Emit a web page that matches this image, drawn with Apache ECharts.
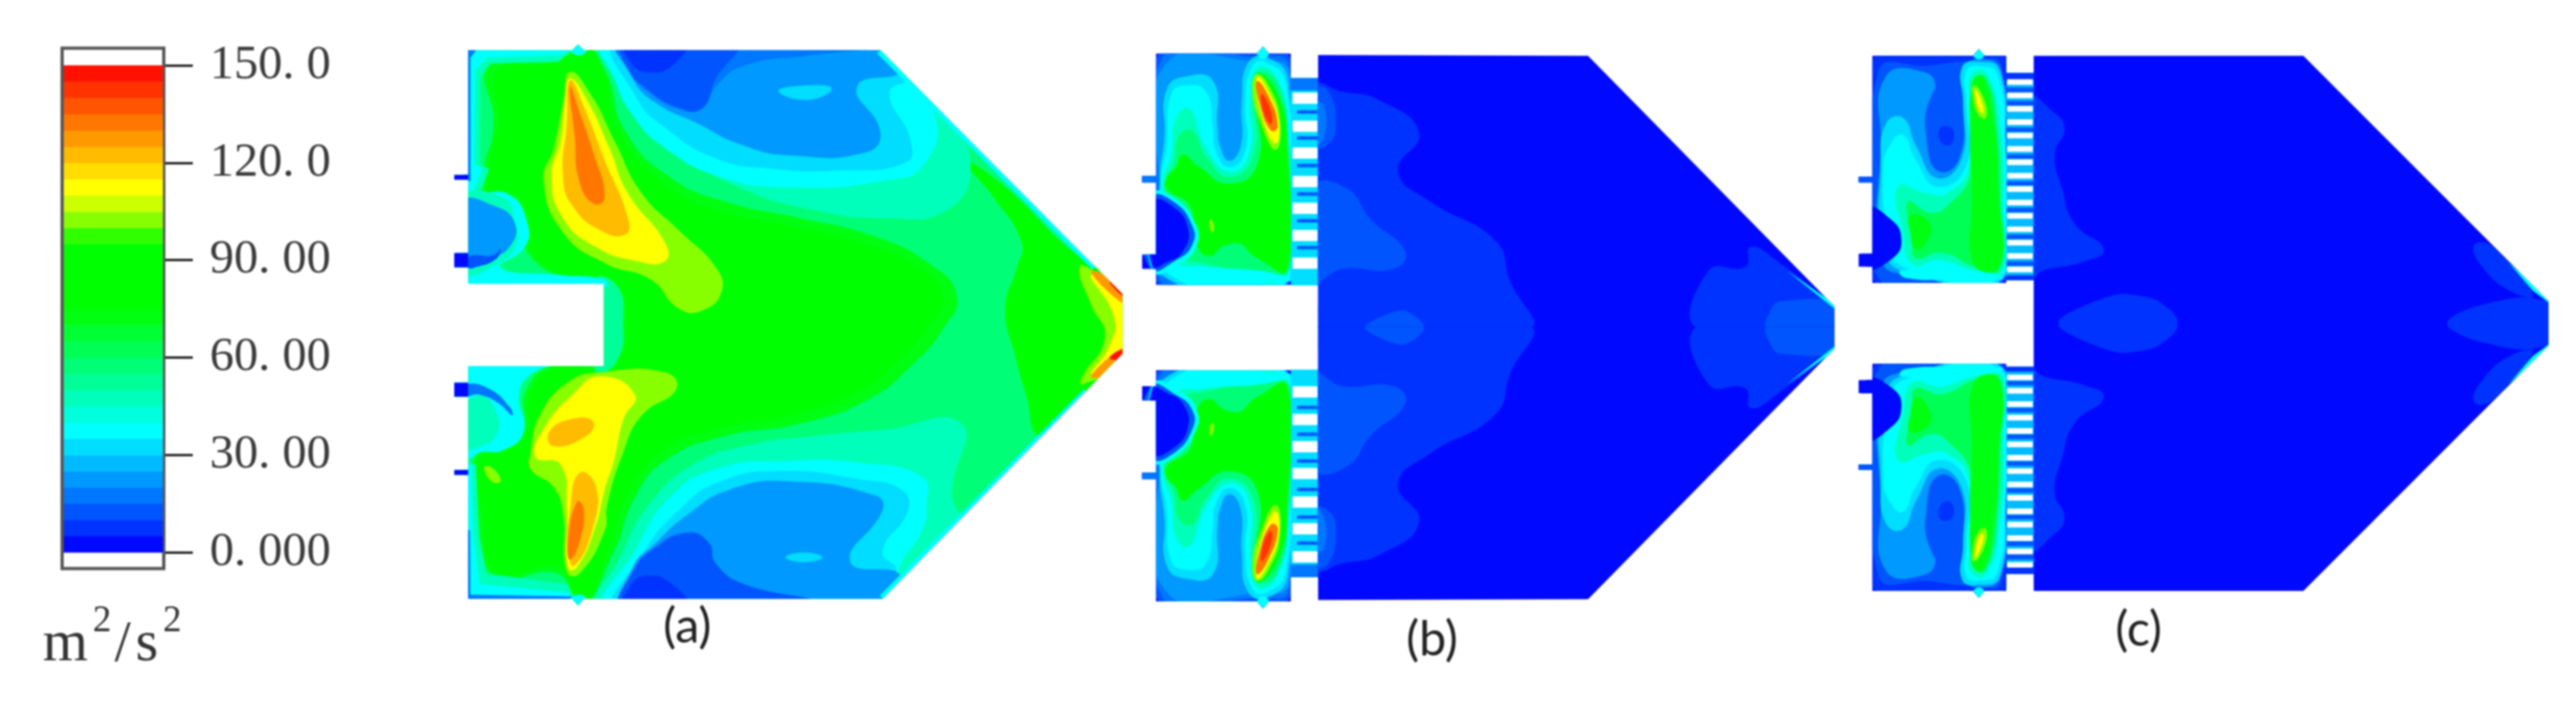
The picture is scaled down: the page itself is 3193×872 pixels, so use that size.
<!DOCTYPE html>
<html><head><meta charset="utf-8">
<style>html,body{margin:0;background:#fff}#c{width:3193px;height:872px}#c canvas{filter:blur(1.2px)}</style>
<script src="https://cdn.jsdelivr.net/npm/echarts@6/dist/echarts.min.js"></script></head>
<body><div id="c"></div>
<script>
// colour scale: turbulent kinetic energy bands, 5 m2/s2 wide, from 0 to 150
const bandColors=['#0008ff','#0033ff','#0055ff','#0077ff','#0099ff','#00bbff','#00ddff','#00ffff','#00ffdd','#00ffbb','#00ff99','#00ff77','#00ff55','#00ff33','#00ff11','#00ff00','#00ff00','#00ff00','#00ff00','#30ff00','#88ff00','#ccff00','#ffff00','#ffdd00','#ffbb00','#ff9900','#ff7700','#ff5500','#ff3300','#ff1100'];
const legendEdges=[0,5,10,15,20,25,30,35,40,45,50,55,60,65,70,75,80,85,90,95,100,105,110,115,120,125,130,135,140,145,150];
const legendTicks=['0. 000','30. 00','60. 00','90. 00','120. 0','150. 0'];
const panelLabels=['(a)','(b)','(c)'];

// contour regions: [level, outline x,y pairs in panel model units, optional no-smoothing flag]
const aDomain=[105,122,330,122,342,108,354,122,995,122,1518,715,1518,860,1000,1456,354,1456,342,1472,330,1456,105,1456,105,1155,75,1155,75,1142,105,1142,105,965,75,965,75,930,105,930,105,890,398,890,398,690,105,690,105,650,75,650,75,615,105,615,105,437,75,437,75,425,105,425];
const aRegions=[
[58,[60,100,1540,100,1540,1480,60,1480],0],
[70,[150,160,290,140,345,100,400,170,445,320,540,430,660,490,820,530,970,570,1100,640,1160,720,1130,800,1070,880,970,970,820,1030,660,1060,530,1120,465,1210,420,1340,345,1480,300,1395,160,1400,125,1250,115,1130,150,1085,220,1045,230,950,290,888,430,885,440,790,430,690,320,680,225,600,225,520,190,462,125,455,140,400,160,300]],
[78,[170,170,290,150,345,100,395,170,430,320,520,440,640,510,800,550,950,590,1080,650,1130,720,1100,790,1040,870,950,950,800,1010,650,1040,520,1100,450,1200,410,1330,345,1480,300,1380,170,1390,135,1250,125,1130,160,1090,230,1050,240,950,300,895,420,890,420,690,330,680,235,600,235,520,190,470,135,460,150,400,170,300]],
[78,[1175,390,1260,450,1420,620,1540,700,1540,870,1420,1000,1340,1060,1310,960,1285,860,1265,750,1290,650,1300,590,1240,480]],
[50,[380,680,430,700,438,790,425,880,380,900]],
[47,[395,100,1000,100,1140,290,1190,400,1140,510,1000,530,850,510,700,460,560,370,470,270,420,190]],
[37,[400,100,1000,100,1110,270,1090,400,1000,440,800,455,650,430,530,360,460,280,420,190]],
[32,[430,100,1030,100,1060,185,1015,225,1060,340,1050,395,900,415,760,410,640,385,530,310,470,240]],
[22,[440,100,1010,100,1045,170,945,210,995,320,965,370,800,378,690,350,600,300,510,250,460,190]],
[17,[1000,115,840,135,700,160,640,210,610,265,560,265,490,220,450,170,430,100]],
[12,[440,100,680,112,640,190,610,262,560,262,490,215,450,165]],
[7,[445,100,575,100,545,160,490,175,455,150]],
[32,[775,222,830,208,890,215,840,243]],
[47,[395,1480,440,1340,500,1220,590,1130,700,1085,850,1060,1000,1045,1170,1030,1150,1200,1170,1290,1000,1480]],
[37,[410,1480,470,1330,540,1210,640,1140,800,1120,950,1125,1085,1160,1095,1230,1085,1290,1040,1370,1000,1480]],
[32,[430,1480,480,1350,560,1240,650,1170,780,1145,950,1165,1040,1190,1055,1240,1000,1340,1030,1390,990,1480]],
[22,[445,1480,1000,1480,1040,1400,930,1365,1000,1240,985,1205,800,1170,670,1190,580,1250,510,1320,460,1380]],
[12,[440,1480,840,1460,700,1420,640,1370,625,1320,580,1295,510,1330,460,1390]],
[7,[445,1480,580,1480,545,1420,490,1400,455,1425]],
[32,[790,1355,830,1343,870,1355,830,1367]],
[104,[325,175,370,230,420,340,480,470,560,560,640,650,652,710,610,755,560,750,500,680,400,640,310,565,268,440,290,360,310,250]],
[112,[325,190,360,240,410,360,450,470,530,590,530,635,470,635,380,600,310,530,285,430,305,340,315,230]],
[122,[325,195,355,260,400,390,450,530,445,570,390,560,330,500,310,430,318,300]],
[130,[325,210,345,270,375,370,400,480,375,495,345,440,335,330]],
[104,[390,905,530,905,555,945,480,1010,440,1100,405,1230,400,1290,345,1395,318,1390,310,1250,290,1185,240,1140,240,1100,260,1010,320,930]],
[112,[390,915,465,960,440,1020,420,1120,400,1190,380,1280,340,1380,320,1380,318,1240,305,1130,250,1110,270,1040,330,960]],
[122,[280,1050,330,1018,375,1025,360,1060,290,1085]],
[122,[345,1150,380,1180,375,1280,335,1375,320,1340,325,1240]],
[130,[340,1220,355,1240,345,1320,325,1360,320,1320]],
[104,[140,1135,160,1140,175,1170,155,1170]],
[104,[1425,650,1460,660,1540,710,1540,870,1430,935,1430,920,1480,820,1450,740]],
[112,[1450,670,1530,730,1530,850,1450,910,1490,840,1500,770]],
[125,[1450,660,1530,705,1530,745]],
[145,[1490,685,1530,705,1530,728]],
[125,[1450,912,1530,840,1530,870,1470,918]],
[145,[1490,870,1530,845,1530,870]],
[47,[95,118,335,118,300,150,150,155,130,190,130,400,150,410,135,460,95,460],0],
[37,[95,118,335,118,305,134,145,140,120,170,118,400,135,410,118,460,95,460],0],
[17,[95,118,125,118,110,140,110,440,95,440],0],
[37,[95,450,130,465,195,475,232,540,228,600,175,650,300,668,400,680,400,700,95,700]],
[47,[95,480,180,480,205,530,210,590,170,640,95,660]],
[22,[95,490,160,500,205,540,195,600,150,625,95,620]],
[12,[105,625,160,620,175,605,165,630,120,650,105,650]],
[37,[95,885,290,885,240,910,215,960,225,1050,180,1095,130,1100,95,1120]],
[47,[95,1000,130,960,165,1000,165,1060,120,1090,95,1090]],
[17,[100,935,150,945,195,990,200,1010,170,980,130,960,100,960]],
[47,[95,1120,122,1130,128,1300,145,1395,320,1420,345,1480,95,1480],0],
[37,[95,1120,113,1130,116,1300,130,1420,320,1440,335,1480,95,1480],0],
[17,[95,1280,109,1290,110,1446,340,1450,340,1480,95,1480],0],
[3,[70,425,105,425,105,437,70,437],0],
[3,[70,615,105,615,105,650,70,650],0],
[3,[70,930,105,930,105,965,70,965],0],
[3,[70,1142,105,1142,105,1155,70,1155],0],
[37,[995,122,1460,650,1452,654,988,130],0],
[37,[1000,1456,1440,950,1434,946,994,1448],0],
[37,[320,114,342,104,364,114,345,135]],
[37,[320,1464,342,1476,364,1464,345,1445]]
];

const bChamberDomain=[127,87,345,87,358,70,371,87,418,87,418,622,127,622,127,585,97,585,97,552,127,552,127,385,97,385,97,370,127,370];
const bChamberRegions=[
[3,[90,60,430,60,430,640,90,640],0],
[10,[130,92,414,92,414,618,130,618]],
[17,[138,102,345,95,414,115,414,610,135,610]],
[22,[145,115,345,105,415,130,415,600,135,600,135,420]],
[32,[150,170,190,140,250,150,260,260,265,300,285,335,310,300,312,200,325,110,365,95,412,150,418,606,140,598,135,380,145,280]],
[37,[160,180,195,160,235,175,250,260,255,310,285,350,320,310,320,200,332,122,360,105,408,160,416,604,145,590,138,380,150,300]],
[47,[170,235,200,215,232,300,285,360,328,318,330,190,345,120,385,140,412,260,414,592,230,580,150,555,142,385,160,320]],
[58,[175,280,205,265,235,325,285,372,338,320,337,160,350,128,390,155,412,280,412,590,230,572,160,540,146,385,165,340]],
[78,[185,320,215,345,285,388,347,340,342,180,350,132,395,195,410,300,410,585,345,560,300,525,240,555,212,520,200,440,150,400,150,375,170,350]],
[58,[250,565,285,528,322,560,300,572]],
[37,[120,412,165,420,212,480,215,530,180,572,120,590]],
[12,[120,420,165,430,205,485,205,530,170,565,120,584]],
[3,[120,430,162,440,196,490,185,545,150,570,120,578]],
[104,[345,135,370,160,395,240,385,310,350,240,335,170]],
[112,[345,140,365,165,392,240,385,295,355,230]],
[130,[345,150,370,185,390,255,375,265,350,200]],
[142,[355,180,375,220,375,250,360,225]],
[104,[245,470,252,485,250,500,243,490]],
[37,[180,590,300,585,415,604,415,614,200,610]],
[37,[345,84,358,66,371,84,358,100]]
];
const bBandRegions=[
[33,[415,143,480,143,480,624,415,624],0],
[15,[415,143,480,143,480,172,415,172],0],
[10,[432,218,476,218,476,226,432,226],0],
[10,[432,278,476,278,476,286,432,286],0],
[10,[432,342,476,342,476,350,432,350],0],
[10,[432,408,476,408,476,416,432,416],0],
[10,[432,470,476,470,476,478,432,478],0],
[10,[432,532,476,532,476,540,432,540],0]
];
const bHoles=[[422,177,476,203],[422,242,476,268],[422,304,476,330],[422,370,476,396],[422,432,476,458],[422,495,476,521],[422,559,476,585]];
const bMainDomain=[477,90,1060,92,1592,672,1592,722,477,722];
const bMainRegions=[
[3,[470,80,1600,80,1600,730,470,730],0],
[8,[470,165,530,175,610,195,695,270,650,360,720,430,860,520,890,610,930,725,470,725]],
[12,[470,395,540,400,590,470,665,545,640,585,530,585,470,610]],
[12,[470,170,500,175,515,260,495,300,470,300]],
[18,[470,200,490,210,490,280,470,300]],
[12,[580,724,640,685,680,690,702,724]],
[8,[1320,590,1400,580,1410,535,1460,560,1600,690,1600,726,1300,726]],
[12,[1455,680,1480,660,1600,670,1600,726,1450,726]],
[37,[1490,590,1600,672,1600,684,1560,650],0]
];

const cChamberDomain=[133,92,338,92,350,76,362,92,406,92,406,618,133,618,133,580,105,580,105,550,133,550,133,385,105,385,105,372,133,372];
const cChamberRegions=[
[3,[90,60,420,60,420,640,90,640],0],
[8,[137,96,403,96,403,614,137,614]],
[14,[145,130,250,115,330,105,395,115,403,605,145,605]],
[22,[160,140,240,130,262,170,245,290,270,330,315,275,318,125,350,100,395,125,403,300,403,598,200,598,150,560,150,300]],
[14,[255,180,310,135,318,200,310,330,270,360,245,300]],
[7,[270,260,295,260,295,295,275,295]],
[30,[160,250,195,235,222,300,265,375,315,330,318,200,316,118,350,106,392,125,405,300,405,600,200,592,155,530,150,350]],
[37,[168,300,195,275,220,330,265,395,325,345,325,200,324,128,352,116,388,135,404,300,404,592,200,582,165,500,155,350]],
[47,[185,395,245,410,285,410,330,350,332,190,332,140,362,128,392,240,400,450,398,590,340,588,270,565,215,575,195,500]],
[60,[205,430,250,455,285,440,335,360,338,200,338,148,365,142,388,270,394,450,392,585,345,582,275,548,220,560,215,510]],
[70,[338,150,358,140,380,240,390,400,392,580,340,575,336,420,332,280]],
[70,[210,460,250,480,245,520,222,540,210,500]],
[104,[340,160,360,190,365,235,350,230,338,190]],
[112,[343,170,358,205,358,225,348,210]],
[37,[338,88,350,72,362,88,350,100]],
[37,[190,590,300,585,400,606,300,610,200,606]],
[3,[120,445,170,470,192,515,175,560,120,580]]
];
const cBandRegions=[
[27,[404,131,464,131,464,612,404,612],0],
[7,[404,131,464,131,464,148,404,148],0],
[14,[404,165,464,165,464,178,404,178],0],
[14,[404,196,464,196,464,207,404,207],0],
[14,[404,258,464,258,464,268,404,268],0],
[14,[404,320,464,320,464,330,404,330],0],
[14,[404,382,464,382,464,392,404,392],0],
[14,[404,444,464,444,464,454,404,454],0],
[14,[404,506,464,506,464,516,404,516],0],
[14,[404,568,464,568,464,578,404,578],0],
[7,[404,600,464,600,464,612,404,612],0]
];
const cHoles=[[408,146,460,159],[408,177,460,190],[408,208,460,221],[408,239,460,252],[408,270,460,283],[408,301,460,314],[408,332,460,345],[408,363,460,376],[408,394,460,407],[408,425,460,438],[408,456,460,469],[408,487,460,500],[408,518,460,531],[408,549,460,562],[408,580,460,593]];
const cMainDomain=[462,92,1012,92,1512,660,1512,712,462,712];
const cMainRegions=[
[3,[455,80,1530,80,1530,720,455,720],0],
[8,[455,190,500,220,525,260,505,320,520,400,545,480,605,540,560,570,480,590,455,610]],
[8,[517,713,600,655,680,648,740,680,750,713]],
[8,[1310,713,1370,670,1512,660,1530,713]],
[8,[1360,530,1400,535,1480,645,1440,640,1380,585]],
[37,[1430,570,1512,655,1512,663,1480,636],0]
];

const W=1568;
function grid(l,t,w,h){return {left:l,top:t,width:w,height:h};}
const grids=[grid(77,81,126,604),grid(520,0,900,800),grid(1360,20,900,840),grid(1360,20,900,840),grid(2240,20,953,840),grid(2240,20,953,840)];
const xAxes=[{gridIndex:0,type:'value',min:0,max:1,show:false}];
const yAxes=[{gridIndex:0,type:'value',min:0,max:150,interval:30,position:'right',axisLine:{show:true,onZero:false,lineStyle:{color:'#444',width:2}},splitLine:{show:false},
  axisTick:{show:true,inside:false,length:36,lineStyle:{color:'#222',width:3}},
  axisLabel:{margin:57,fontFamily:'Liberation Serif',fontSize:60,color:'#3a3a3a',formatter:v=>legendTicks[v/30]}}];
[[0,W,false],[0,W,false],[-126,1442,true],[0,W,false],[-145,1423,true]].forEach((a,i)=>{
  xAxes.push({gridIndex:i+1,type:'value',min:0,max:W,show:false});
  yAxes.push({gridIndex:i+1,type:'value',min:a[0],max:a[1],inverse:!a[2],show:false,splitLine:{show:false}});
});
const series=[];
function contour(g,domain,regions){
  const clipOf=api=>{const p=[];for(let j=0;j<domain.length;j+=2)p.push(api.coord([domain[j],domain[j+1]]));return p;};
  series.push({type:'custom',coordinateSystem:'cartesian2d',xAxisIndex:g,yAxisIndex:g,silent:true,animation:false,clip:false,
    data:regions.map((r,i)=>[i,r[0]]),
    renderItem(params,api){
      const r=regions[api.value(0)],f=r[1],p=[];
      for(let j=0;j<f.length;j+=2)p.push(api.coord([f[j],f[j+1]]));
      return {type:'polygon',shape:{points:p,smooth:r.length>2?0:0.5},style:{fill:api.visual('color')},clipPath:{type:'polygon',shape:{points:clipOf(api)}}};
    }});
}
function holes(g,list){
  series.push({type:'custom',coordinateSystem:'cartesian2d',xAxisIndex:g,yAxisIndex:g,silent:true,animation:false,clip:false,
    data:list.map((h,i)=>[i,-1]),
    renderItem(params,api){
      const h=list[api.value(0)],a=api.coord([h[0],h[1]]),b=api.coord([h[2],h[3]]);
      return {type:'rect',shape:{x:a[0],y:Math.min(a[1],b[1]),width:b[0]-a[0],height:Math.abs(b[1]-a[1])},style:{fill:'#fff'}};
    }});
}
const bandRect=[[418,143,478,143,478,624,418,624],[406,131,462,131,462,612,406,612]];
// legend frame
series.push({type:'custom',coordinateSystem:'cartesian2d',xAxisIndex:0,yAxisIndex:0,silent:true,animation:false,clip:false,z:1,data:[[0,-1]],
  renderItem(p,api){const a=api.coord([0,155.3]),b=api.coord([1,-5]);
    return {type:'rect',shape:{x:a[0],y:a[1],width:b[0]-a[0],height:b[1]-a[1]},style:{fill:'#fff',stroke:'#555',lineWidth:4}};}});
// legend colour bands
series.push({type:'custom',coordinateSystem:'cartesian2d',xAxisIndex:0,yAxisIndex:0,silent:true,animation:false,clip:false,
  data:legendEdges.slice(0,-1).map((e,i)=>[i,(e+legendEdges[i+1])/2]),
  renderItem(p,api){const i=api.value(0),a=api.coord([0,legendEdges[i+1]]),b=api.coord([1,legendEdges[i]]);
    return {type:'rect',shape:{x:a[0]+2,y:a[1],width:b[0]-a[0]-3,height:b[1]-a[1]+0.5},style:{fill:api.visual('color')}};}});
contour(1,aDomain,aRegions);
[2,3].forEach(g=>{contour(g,bandRect[0],bBandRegions);holes(g,bHoles);contour(g,bMainDomain,bMainRegions);contour(g,bChamberDomain,bChamberRegions);});
[4,5].forEach(g=>{contour(g,bandRect[1],cBandRegions);holes(g,cHoles);contour(g,cMainDomain,cMainRegions);contour(g,cChamberDomain,cChamberRegions);});

const txt=(text,left,top,size,font,color)=>({text,left,top,padding:0,textStyle:{fontSize:size,fontFamily:font,fontWeight:'normal',color}});
const unitTitle={text:'{b|m}{s|2}{b|/}{b|s}{s|2}',left:53,top:748,padding:0,textStyle:{fontWeight:'normal',rich:{
  b:{fontFamily:'Liberation Serif',fontWeight:'normal',fontSize:72,color:'#333',verticalAlign:'bottom',lineHeight:88,padding:[0,6,0,0]},
  s:{fontFamily:'Liberation Serif',fontWeight:'normal',fontSize:46,color:'#333',verticalAlign:'top',lineHeight:88,padding:[0,4,0,0]}}}};
const chart=echarts.init(document.getElementById('c'),null,{renderer:'canvas'});
chart.setOption({backgroundColor:'#fff',animation:false,grid:grids,xAxis:xAxes,yAxis:yAxes,series,
  title:[unitTitle,
    txt(panelLabels[0],822,748,60,'Lato','#222'),txt(panelLabels[1],1743,764,60,'Lato','#222'),txt(panelLabels[2],2622,752,60,'Lato','#222')],
  visualMap:{show:false,type:'piecewise',dimension:1,seriesIndex:series.map((s,i)=>i).filter(i=>i!==0&&series[i].data[0][1]!==-1),
    pieces:bandColors.map((c,i)=>({gte:i*5,lt:(i+1)*5,color:c}))}
});
</script></body></html>
